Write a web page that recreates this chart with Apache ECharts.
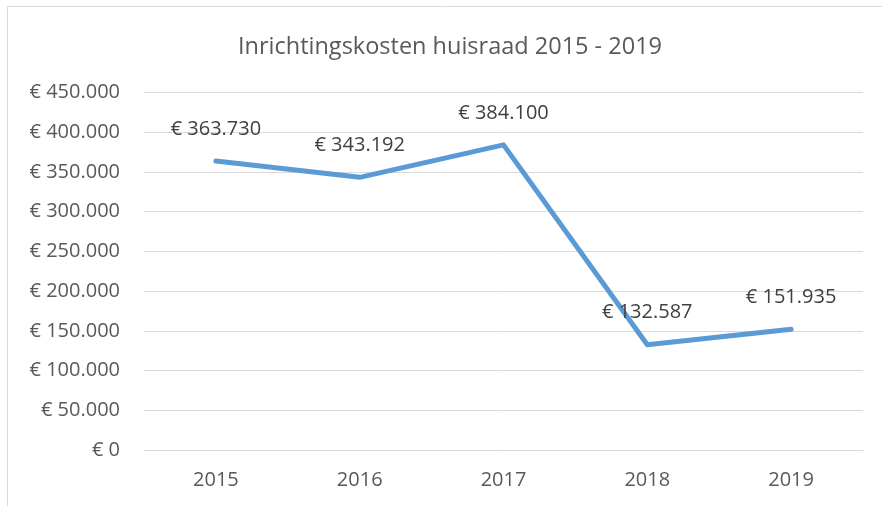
<!DOCTYPE html>
<html>
<head>
<meta charset="utf-8">
<script src="https://cdn.jsdelivr.net/npm/echarts@6/dist/echarts.min.js"></script>
<style>
  html, body { margin: 0; padding: 0; background: #fff; }
  #chart { width: 882px; height: 506px; }
</style>
</head>
<body>
<div id="chart"></div>
<script>
// gegevens
const jaren = ['2015', '2016', '2017', '2018', '2019'];
const kosten = [363730, 343192, 384100, 132587, 151935];
const titel = 'Inrichtingskosten huisraad 2015 - 2019';

// bedrag als "€ 363.730"
const euro = (v) => '€ ' + String(Math.round(v)).replace(/\B(?=(\d{3})+(?!\d))/g, '.');

const font = '"Open Sans", sans-serif';
const myChart = echarts.init(document.getElementById('chart'));

myChart.setOption({
  animation: false,
  backgroundColor: '#fff',
  textStyle: { fontFamily: font },
  graphic: [{
    type: 'rect',
    shape: { x: 7.5, y: 6.5, width: 900, height: 600 },
    style: { fill: 'none', stroke: '#d9d9d9', lineWidth: 1 },
    silent: true
  }],
  title: {
    text: titel,
    left: 445,
    top: 30,
    textAlign: 'center',
    textStyle: { fontFamily: font, fontSize: 23.5, fontWeight: 'normal', color: '#595959' }
  },
  grid: { left: 144, right: 19, top: 92.5, bottom: 56, containLabel: false },
  xAxis: {
    type: 'category',
    data: jaren,
    boundaryGap: true,
    axisLine: { show: true, lineStyle: { color: '#d9d9d9', width: 1 } },
    axisTick: { show: false },
    axisLabel: { color: '#595959', fontSize: 20, margin: 20, fontFamily: font }
  },
  yAxis: {
    type: 'value',
    min: 0,
    max: 450000,
    interval: 50000,
    axisLine: { show: false },
    axisTick: { show: false },
    splitLine: { lineStyle: { color: '#d9d9d9', width: 1 } },
    axisLabel: { color: '#595959', fontSize: 20, margin: 24, fontFamily: font, formatter: euro }
  },
  series: [{
    type: 'line',
    data: kosten,
    symbol: 'circle',
    symbolSize: 0,
    showSymbol: true,
    lineStyle: { color: '#5b9bd5', width: 5, cap: 'round', join: 'round' },
    itemStyle: { color: '#5b9bd5' },
    label: {
      show: true,
      position: 'top',
      distance: 22,
      color: '#404040',
      fontSize: 20,
      fontFamily: font,
      formatter: (p) => euro(p.value)
    }
  }]
});
</script>
</body>
</html>
